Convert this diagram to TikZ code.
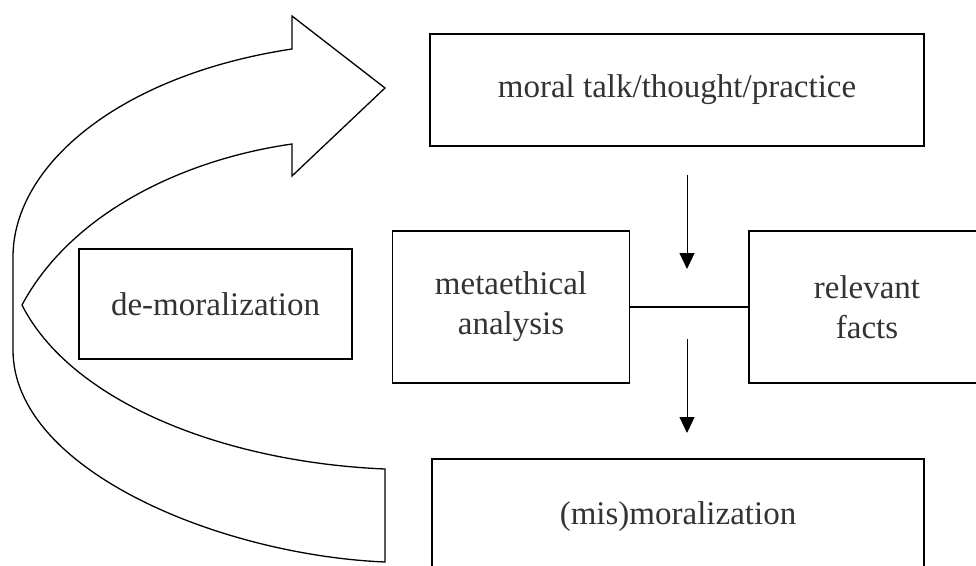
\documentclass[tikz,border=0pt]{standalone}
\usepackage{fontspec}
\setmainfont{Liberation Serif}
\usetikzlibrary{arrows.meta}
\begin{document}
\begin{tikzpicture}[x=1pt,y=-1pt,
  box/.style={draw=black, line width=1.8pt, inner sep=0pt, align=center,
    font=\fontsize{33}{40}\selectfont, text=black!80},
  flow/.style={line width=1pt, -{Triangle[length=16pt,width=15pt]}},
  bendarrow/.style={line width=1.3pt, line join=miter}]
\useasboundingbox (0,0) rectangle (976,565);
\clip (0,0) rectangle (976,565);
% boxes
\node[box, minimum width=494pt, minimum height=112pt] (moral) at (677,90) {moral talk/thought/practice};
\node[box, minimum width=273pt, minimum height=110pt] (demoral) at (215.5,304) {de-moralization};
\node[box, minimum width=237pt, minimum height=152pt] (meta) at (511,307) {metaethical\\analysis};
\node[box, minimum width=236pt, minimum height=152pt] (facts) at (867,307) {relevant\\facts};
\node[box, minimum width=492pt, minimum height=116pt] (mismoral) at (678,517) {(mis)moralization};
% connector between meta and facts
\draw[line width=1.5pt] (meta.east) -- (facts.west);
% flow arrows
\coordinate (a1s) at (687,175);
\coordinate (a1e) at (687,269);
\coordinate (a2s) at (687,339);
\coordinate (a2e) at (687,433);
\draw[flow] (a1s) -- (a1e);
\draw[flow] (a2s) -- (a2e);
% curved block arrow
\draw[bendarrow]
  (385,562) .. controls (220,555) and (13,470) .. (13,350)
  -- (13,257) .. controls (13,165) and (120,75) .. (292,49)
  -- (292,16) -- (385,88) -- (292,176) -- (292,144)
  .. controls (180,160) and (70,215) .. (22,305)
  .. controls (70,400) and (220,462) .. (385,469)
  -- cycle;
\end{tikzpicture}
\end{document}
